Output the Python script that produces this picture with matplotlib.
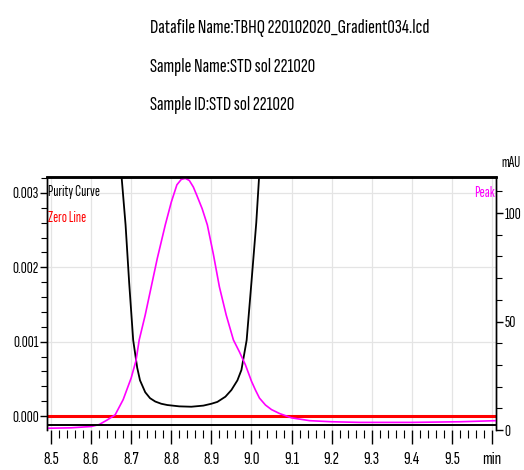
import matplotlib
matplotlib.use('Agg')
import matplotlib.pyplot as plt
from matplotlib.ticker import MultipleLocator, FixedLocator

# узкий шрифт, как в отчёте хроматографа
plt.rcParams['font.family'] = ['Sofia Sans Extra Condensed', 'Roboto Condensed', 'DejaVu Sans']

header = ['Datafile Name:TBHQ 220102020_Gradient034.lcd',
          'Sample Name:STD sol 221020',
          'Sample ID:STD sol 221020']

# Purity Curve (левая ось)
t_pur = [8.665, 8.676, 8.686, 8.695, 8.705, 8.715, 8.722, 8.735, 8.747, 8.76, 8.775, 8.79,
         8.82, 8.85, 8.88, 8.9, 8.915, 8.935, 8.95, 8.965, 8.975, 8.988, 9.0, 9.012, 9.02, 9.03]
purity = [0.0042, 0.00322, 0.00257, 0.00179, 0.00102, 0.00065, 0.00048, 0.00032, 0.00024,
          0.000195, 0.000165, 0.000148, 0.00013, 0.000125, 0.00014, 0.000165, 0.00019,
          0.00026, 0.00035, 0.00048, 0.00062, 0.00102, 0.0018, 0.0026, 0.0033, 0.0042]

# Peak, mAU (правая ось)
t_peak = [8.49, 8.55, 8.6, 8.62, 8.64, 8.66, 8.68, 8.70, 8.712, 8.72, 8.735, 8.75, 8.765,
          8.785, 8.80, 8.814, 8.825, 8.835, 8.845, 8.855, 8.864, 8.877, 8.89, 8.905, 8.92,
          8.937, 8.955, 8.97, 8.985, 9.0, 9.01, 9.02, 9.035, 9.05, 9.07, 9.1, 9.145, 9.2,
          9.27, 9.4, 9.52, 9.61]
peak = [0.8, 1.0, 1.6, 2.5, 4.6, 7.0, 14.0, 24.0, 32.0, 41.5, 53.0, 66.0, 79.0,
        94.5, 105.0, 113.0, 115.5, 116.0, 115.0, 112.0, 108.0, 102.0, 94.5, 81.0, 66.0,
        53.0, 41.5, 36.0, 30.0, 22.5, 18.4, 14.7, 11.5, 9.4, 7.6, 5.6, 4.3, 3.8,
        3.5, 3.5, 3.8, 4.3]

zero_line = 0.0
base_line = 2.3  # чёрная линия у нижнего края, mAU

xticks = [8.5, 8.6, 8.7, 8.8, 8.9, 9.0, 9.1, 9.2, 9.3, 9.4, 9.5, 9.6]
xlabels = ['8.5', '8.6', '8.7', '8.8', '8.9', '9.0', '9.1', '9.2', '9.3', '9.4', '9.5', 'min']
yticks_l = [0.000, 0.001, 0.002, 0.003]
yticks_r = [0, 50, 100]

fig = plt.figure(figsize=(5.24, 4.70), dpi=100)
ax = fig.add_axes([47/524, 1 - 430/470, 449/524, 253/470])
ax2 = ax.twinx()

for i, s in enumerate(header):
    fig.text(150/524, 1 - (28 + i*38.5)/470, s, fontsize=15, va='center', ha='left')

ax.plot(t_pur, purity, color='black', lw=1.3)
ax.axhline(zero_line, color='red', lw=2.2)
ax2.plot(t_peak, peak, color='#ff00ff', lw=1.2)
ax2.axhline(base_line, color='black', lw=1.4)

ax.set_xlim(8.49, 9.61)
ax.set_ylim(-0.000188, 0.003215)
ax2.set_ylim(0, 116.6)

ax.xaxis.set_major_locator(FixedLocator(xticks))
ax.set_xticklabels(xlabels)
ax.xaxis.set_minor_locator(MultipleLocator(0.02))
ax.set_yticks(yticks_l)
ax.set_yticklabels(['%.3f' % v for v in yticks_l])
ax.yaxis.set_minor_locator(MultipleLocator(0.0002))
ax2.set_yticks(yticks_r)
ax2.yaxis.set_minor_locator(MultipleLocator(10))

ax.grid(which='major', color='#e4e4e4', lw=0.9)
ax.set_axisbelow(True)

ax.tick_params(axis='x', which='major', length=10, width=1, labelsize=13.5, pad=5)
ax.tick_params(axis='x', which='minor', length=6, width=0.8)
ax.tick_params(axis='y', which='major', length=5, width=1, labelsize=12, pad=1)
ax.tick_params(axis='y', which='minor', length=4, width=0.8)
ax2.tick_params(axis='y', which='major', length=5, width=1, labelsize=12, pad=1)
ax2.tick_params(axis='y', which='minor', length=4, width=0.8)

for a in (ax, ax2):
    a.spines['bottom'].set_visible(False)
    a.spines['top'].set_linewidth(1.8)
    a.spines['left'].set_linewidth(1.0)
    a.spines['right'].set_linewidth(1.0)

ax.text(0.002, 0.94, 'Purity Curve', transform=ax.transAxes, fontsize=11, va='center')
ax.text(0.002, 0.838, 'Zero Line', transform=ax.transAxes, fontsize=11, color='red', va='center')
ax.text(0.998, 0.937, 'Peak', transform=ax.transAxes, fontsize=11.5, color='#ff00ff',
        ha='right', va='center')
fig.text(511/524, 1 - 163/470, 'mAU', fontsize=11, ha='center', va='center')

fig.savefig('out.png', dpi=100)
